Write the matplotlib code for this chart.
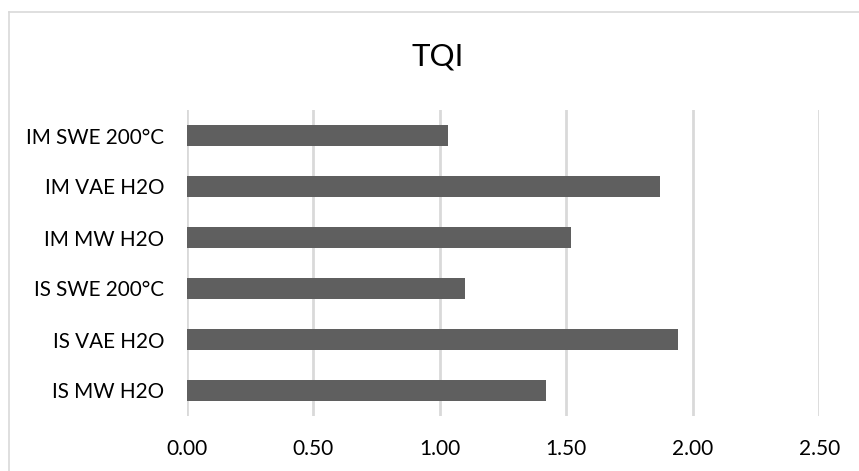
import matplotlib.pyplot as plt
from matplotlib.lines import Line2D

# TQI per sample, listed bottom to top as drawn
labels = ["IS MW H2O", "IS VAE H2O", "IS SWE 200°C", "IM MW H2O", "IM VAE H2O", "IM SWE 200°C"]
tqi = [1.42, 1.94, 1.10, 1.52, 1.87, 1.03]
xticks = [0.0, 0.5, 1.0, 1.5, 2.0, 2.5]

plt.rcParams['font.family'] = ['Lato', 'DejaVu Sans']

W, H = 859, 471
fig = plt.figure(figsize=(W / 100, H / 100), dpi=100)
# plot area in pixels: x 187..819, y 110..416
ax = fig.add_axes([187 / W, 1 - 416 / H, (819.3 - 187) / W, (416 - 110) / H])

ax.barh(range(len(labels)), tqi, height=0.4, color="#5f5f5f", zorder=3)
ax.set_xlim(0, 2.5)
ax.set_ylim(-0.5, len(labels) - 0.5)
ax.set_xticks(xticks)
ax.set_xticklabels(["%.2f" % v for v in xticks], fontsize=15)
ax.set_yticks(range(len(labels)))
ax.set_yticklabels(labels, fontsize=14.9)
ax.tick_params(length=0)
ax.tick_params(axis='x', pad=16.5)
ax.tick_params(axis='y', pad=16.5)
ax.xaxis.grid(True, color="#d9d9d9", linewidth=2, zorder=0)
for s in ax.spines.values():
    s.set_visible(False)

fig.text(438 / W, 1 - 65.7 / H, "TQI", fontsize=22.5, ha="center", va="baseline")

# chart frame (left and top edges)
fig.add_artist(Line2D([8.5 / W, 8.5 / W], [0, 1 - 11.5 / H], color="#d9d9d9", linewidth=1.2))
fig.add_artist(Line2D([8.5 / W, 1], [1 - 11.5 / H, 1 - 11.5 / H], color="#d9d9d9", linewidth=1.2))

fig.savefig("out.png", dpi=100)
